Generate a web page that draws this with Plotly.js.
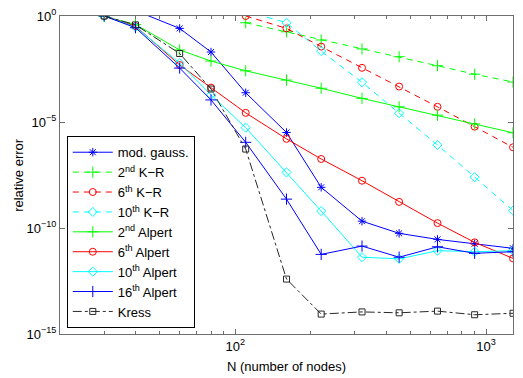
<!DOCTYPE html>
<html>
<head>
<meta charset="utf-8">
<script src="https://cdn.plot.ly/plotly-3.0.1.min.js"></script>
<style>
  body { margin: 0; background: #fff; }
  #chart { width: 523px; height: 378px; }
</style>
</head>
<body>
<div id="chart"></div>
<script>
// number of nodes
var nAll = [30, 40, 60, 80, 110, 160, 220, 320, 450, 640, 900, 1280];
var nGauss = [40, 60, 80, 110, 160, 220, 320, 450, 640, 900, 1280];
var nKR = [110, 160, 220, 320, 450, 640, 900, 1280];

// relative errors
var modGauss = [1.8, 0.26, 0.02, 2.4e-4, 3.2e-6, 8.3e-9, 2.1e-10, 5.6e-11, 2.9e-11, 1.8e-11, 1.1e-11];
var kr2 = [0.48, 0.18, 0.074, 0.028, 0.012, 4.5e-3, 1.8e-3, 7.7e-4];
var kr6 = [1.0, 0.26, 0.036, 3.6e-3, 4.7e-4, 5.2e-5, 6e-6, 6.4e-7];
var kr10 = [1.7, 0.48, 0.022, 7.5e-4, 2.6e-5, 8.3e-7, 2.5e-8, 6.6e-10];
var alp2 = [0.95, 0.4, 0.025, 7.5e-3, 2.6e-3, 9.5e-4, 3.9e-4, 1.3e-4, 5.2e-5, 2.1e-5, 8.1e-6, 3.1e-6];
var alp6 = [1.0, 0.33, 4.9e-3, 4.2e-4, 2.7e-5, 1.6e-6, 1.8e-7, 1.7e-8, 1.7e-9, 1.7e-10, 2.1e-11, 3.7e-12];
var alp10 = [1.0, 0.3, 6e-3, 1.9e-4, 5.4e-6, 4.2e-8, 6.3e-10, 4.2e-12, 3.5e-12, 8.5e-12, 7.6e-12, 8.5e-12];
var alp16 = [1.0, 0.28, 3.5e-3, 1.1e-4, 1.1e-6, 2.3e-9, 5.7e-12, 1.4e-11, 4.2e-12, 1.3e-11, 6.4e-12, 7.6e-12];
var kress = [1.0, 0.38, 0.017, 3.6e-4, 5.3e-7, 3.9e-13, 8.7e-15, 1.1e-14, 1e-14, 1.2e-14, 8.1e-15, 9.5e-15];

var xTickVals = [100, 1000];
var xTickText = ['10<sup>2</sup>', '10<sup>3</sup>'];
var xMinor = [20, 30, 40, 50, 60, 70, 80, 90, 200, 300, 400, 500, 600, 700, 800, 900];
var yTickVals = [1, 1e-5, 1e-10, 1e-15];
var yTickText = ['10<sup>0</sup>', '10<sup>\u22125</sup>', '10<sup>\u221210</sup>', '10<sup>\u221215</sup>'];

function serie(x, y, name, color, dash, symbol, size) {
    return {
        x: x, y: y, name: name,
        type: 'scatter', mode: 'lines+markers',
        line: {color: color, width: 1, dash: dash},
        marker: {symbol: symbol, size: size, color: color,
                 line: {color: color, width: 1}}
    };
}

var data = [
    serie(nGauss, modGauss, 'mod. gauss.', 'rgb(0,0,255)', 'solid', 'asterisk-open', 7),
    serie(nKR, kr2, '2<sup>nd</sup> K\u2212R', 'rgb(0,255,0)', '6px,5px', 'cross-thin-open', 8),
    serie(nKR, kr6, '6<sup>th</sup> K\u2212R', 'rgb(255,0,0)', '6px,5px', 'circle-open', 7),
    serie(nKR, kr10, '10<sup>th</sup> K\u2212R', 'rgb(0,255,255)', '6px,5px', 'diamond-open', 7),
    serie(nAll, alp2, '2<sup>nd</sup> Alpert', 'rgb(0,255,0)', 'solid', 'cross-thin-open', 8),
    serie(nAll, alp6, '6<sup>th</sup> Alpert', 'rgb(255,0,0)', 'solid', 'circle-open', 7),
    serie(nAll, alp10, '10<sup>th</sup> Alpert', 'rgb(0,255,255)', 'solid', 'diamond-open', 7),
    serie(nAll, alp16, '16<sup>th</sup> Alpert', 'rgb(0,0,255)', 'solid', 'cross-thin-open', 8),
    serie(nAll, kress, 'Kress', 'rgb(40,40,40)', 'dashdot', 'square-open', 6)
];

var axisCol = 'rgb(110,110,110)';
var layout = {
    width: 523, height: 378,
    margin: {l: 60, r: 10, t: 16, b: 44},
    paper_bgcolor: '#fff', plot_bgcolor: '#fff',
    font: {family: 'Liberation Sans, Arial, sans-serif', size: 13, color: '#000'},
    showlegend: true,
    legend: {x: 0.015, y: 0.018, xanchor: 'left', yanchor: 'bottom',
             bgcolor: '#fff', bordercolor: '#000', borderwidth: 1,
             font: {size: 13}, itemwidth: 40, tracegroupgap: 0},
    xaxis: {
        type: 'log', range: [Math.log10(20), Math.log10(1280)],
        tickmode: 'array', tickvals: xTickVals, ticktext: xTickText,
        ticks: 'inside', ticklen: 5, tickcolor: axisCol,
        minor: {tickmode: 'array', tickvals: xMinor, ticks: 'inside', ticklen: 3, tickcolor: axisCol},
        showline: true, linecolor: axisCol, linewidth: 1, mirror: 'ticks',
        showgrid: false, zeroline: false,
        title: {text: 'N (number of nodes)', standoff: 9, font: {size: 13}}
    },
    yaxis: {
        type: 'log', range: [-15, 0],
        tickmode: 'array', tickvals: yTickVals, ticktext: yTickText,
        ticks: 'inside', ticklen: 5, tickcolor: axisCol,
        showline: true, linecolor: axisCol, linewidth: 1, mirror: 'ticks',
        showgrid: false, zeroline: false
    },
    annotations: [{
        text: 'relative error', textangle: -90, showarrow: false,
        xref: 'paper', yref: 'paper', x: -0.093, y: 0.5,
        xanchor: 'center', yanchor: 'middle', font: {size: 13}
    }]
};

Plotly.newPlot('chart', data, layout, {displayModeBar: false, staticPlot: true});
</script>
</body>
</html>
